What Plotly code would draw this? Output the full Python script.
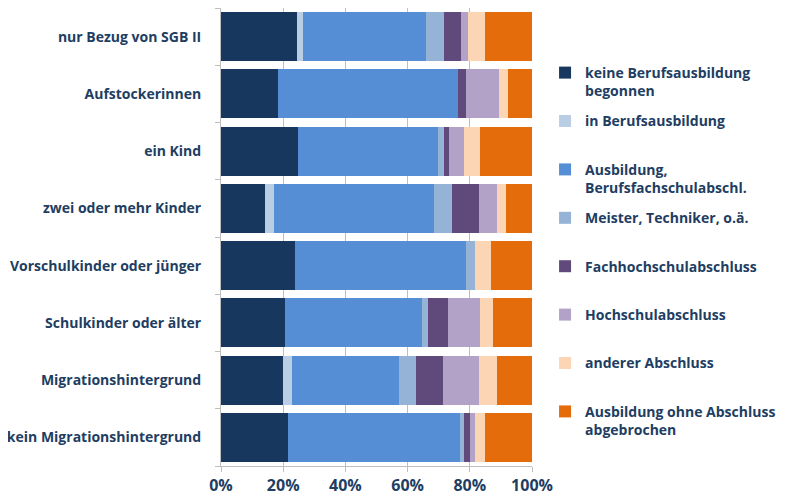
import plotly.graph_objects as go

categories = [
    "nur Bezug von SGB II",
    "Aufstockerinnen",
    "ein Kind",
    "zwei oder mehr Kinder",
    "Vorschulkinder oder jünger",
    "Schulkinder oder älter",
    "Migrationshintergrund",
    "kein Migrationshintergrund",
]

series_names = [
    "keine Berufsausbildung<br>begonnen",
    "in Berufsausbildung",
    "Ausbildung,<br>Berufsfachschulabschl.",
    "Meister, Techniker, o.ä.",
    "Fachhochschulabschluss",
    "Hochschulabschluss",
    "anderer Abschluss",
    "Ausbildung ohne Abschluss<br>abgebrochen",
]

keine_ausbildung = [24.5, 18.4, 24.9, 14.1, 23.7, 20.7, 19.8, 21.5]
in_ausbildung = [1.9, 0.0, 0.0, 2.9, 0.0, 0.0, 3.0, 0.0]
ausbildung_bfs = [39.6, 57.9, 45.0, 51.6, 55.2, 44.0, 34.4, 55.2]
meister = [5.6, 0.0, 1.7, 5.7, 2.9, 2.0, 5.6, 1.5]
fachhochschule = [5.7, 2.6, 1.7, 8.6, 0.0, 6.3, 8.6, 1.8]
hochschule = [2.1, 10.6, 4.9, 5.8, 0.0, 10.3, 11.5, 1.7]
anderer = [5.6, 2.7, 5.1, 2.8, 5.0, 4.3, 5.8, 3.3]
abgebrochen = [15.0, 7.8, 16.7, 8.5, 13.2, 12.4, 11.3, 15.0]

series_values = [keine_ausbildung, in_ausbildung, ausbildung_bfs, meister,
                 fachhochschule, hochschule, anderer, abgebrochen]

colors = ["#17375E", "#B9CDE5", "#558ED5", "#95B3D7",
          "#604A7B", "#B3A2C7", "#FCD5B5", "#E46C0A"]

x_ticks = [0, 20, 40, 60, 80, 100]

text_color = "#213D62"
font_family = "'Open Sans', sans-serif"

fig = go.Figure()
for name, vals, col in zip(series_names, series_values, colors):
    label = name if "<br>" in name else name + "<br> "
    fig.add_trace(go.Bar(
        y=categories, x=vals, name=label, orientation="h",
        marker=dict(color=col, line=dict(width=0)),
        legendgroup=name,
    ))

# page body has an 8px default margin; figure sized to fit the window
fig.update_layout(
    barmode="stack",
    bargap=0.14,
    width=777, height=491,
    margin=dict(l=213, r=253, t=0, b=33, autoexpand=False),
    paper_bgcolor="white",
    plot_bgcolor="white",
    font=dict(family=font_family, size=14, color=text_color, weight="bold"),
    legend=dict(
        x=1.042, y=0.893, xanchor="left", yanchor="top",
        valign="top",
        tracegroupgap=9,
        font=dict(family=font_family, size=14, color=text_color, weight="bold"),
        itemclick=False, itemdoubleclick=False,
    ),
    showlegend=True,
)

fig.update_xaxes(
    range=[0, 100],
    tickvals=x_ticks,
    ticktext=[f"{v}%" for v in x_ticks],
    showgrid=True, gridcolor="#BFBFBF", gridwidth=1,
    showline=True, linecolor="#BFBFBF", linewidth=1,
    ticks="outside", ticklen=5, tickcolor="#BFBFBF",
    zeroline=False, automargin=False,
    tickfont=dict(size=16, color=text_color, weight="bold"),
)

fig.update_yaxes(
    categoryorder="array",
    categoryarray=categories[::-1],
    showgrid=False,
    showline=True, linecolor="#BFBFBF", linewidth=1,
    ticks="outside", ticklen=5, tickcolor="#BFBFBF",
    tickson="boundaries", automargin=False,
    ticklabelstandoff=16,
    tickfont=dict(size=14, color=text_color, weight="bold"),
)

fig.write_html("out.html")
